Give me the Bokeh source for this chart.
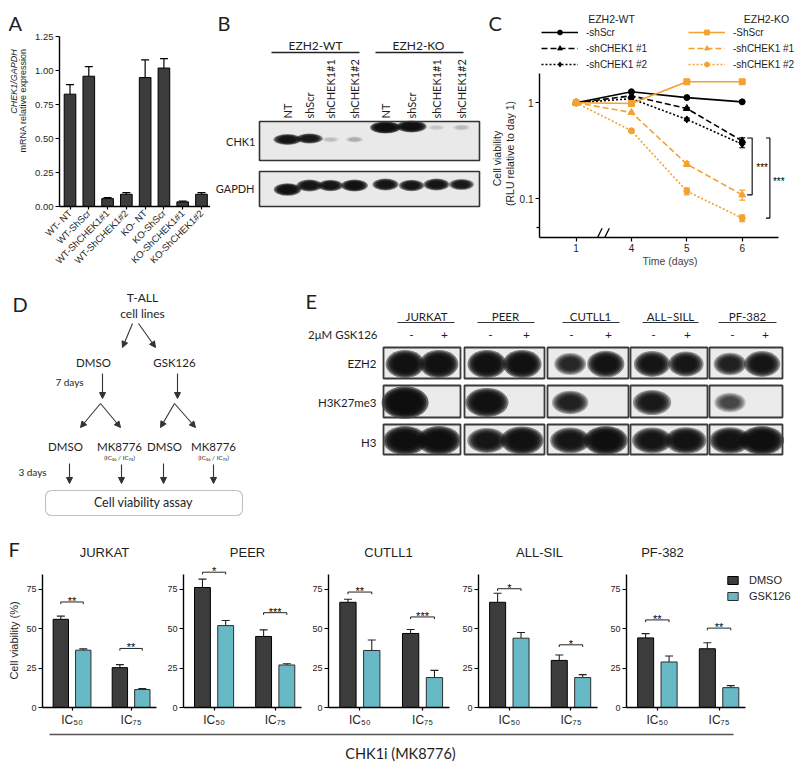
import numpy as np
from bokeh.plotting import figure
from bokeh.models import (Range1d, FixedTicker, Label, Legend, LegendItem, Whisker,
                          TeeHead, ColumnDataSource, Arrow, NormalHead, BoxAnnotation,
                          NumeralTickFormatter)
from bokeh.layouts import row, column
from bokeh.core.properties import value
from bokeh.embed import file_html
from bokeh.resources import INLINE

SANS = "Liberation Sans"
HUM = "Lato"
INK = "#1e1e1e"
DARK = "#3c3c3c"
TEAL = "#67b9c5"
ORANGE = "#f4a12e"

# ---------------- DATA ----------------
# A: CHEK1 mRNA
a_categories = ["WT- NT", "WT-ShScr", "WT-ShCHEK1#1", "WT-ShCHEK1#2",
                "KO- NT", "KO-ShScr", "KO-ShCHEK1#1", "KO-ShCHEK1#2"]
a_values = [0.826, 0.958, 0.058, 0.090, 0.948, 1.018, 0.034, 0.090]
a_errors = [0.070, 0.070, 0.008, 0.012, 0.130, 0.070, 0.006, 0.012]
a_yticks = [0.0, 0.25, 0.50, 0.75, 1.00, 1.25]

# B: western blot CHK1 / GAPDH
b_groups = ["EZH2-WT", "EZH2-KO"]
b_lanes = ["NT", "shScr", "shCHEK1#1", "shCHEK1#2", "NT", "shScr", "shCHEK1#1", "shCHEK1#2"]
b_rows = ["CHK1", "GAPDH"]
b_chk1 = [0.85, 0.75, 0.06, 0.10, 1.05, 1.00, 0.05, 0.08]
b_gapdh = [0.95, 0.85, 0.80, 0.90, 0.85, 0.80, 0.85, 0.75]

# C: cell viability over time (log)
c_days = ["1", "4", "5", "6"]
c_groups = ["EZH2-WT", "EZH2-KO"]
c_labels = ["-shScr", "-shCHEK1 #1", "-shCHEK1 #2", "-ShScr", "-shCHEK1 #1", "-shCHEK1 #2"]
c_wt_shscr = [1.0, 1.30, 1.13, 1.02]
c_wt_sh1 = [1.0, 1.18, 0.87, 0.40]
c_wt_sh2 = [1.0, 1.10, 0.67, 0.37]
c_ko_shscr = [1.0, 0.98, 1.65, 1.65]
c_ko_sh1 = [1.0, 0.79, 0.23, 0.11]
c_ko_sh2 = [1.0, 0.51, 0.12, 0.063]
c_wt_shscr_err = [0, 0, 0, 0]
c_wt_sh1_err = [0, 0, 0.02, 0.03]
c_wt_sh2_err = [0, 0, 0.02, 0.03]
c_ko_shscr_err = [0, 0, 0, 0]
c_ko_sh1_err = [0, 0, 0.012, 0.013]
c_ko_sh2_err = [0, 0, 0.010, 0.005]
c_yticks = [0.1, 1]
c_yminor = [0.05]
c_sig = ["***", "***"]

# D: scheme texts
d_labels = ["T-ALL", "cell lines", "DMSO", "GSK126", "7 days",
            "DMSO", "MK8776", "DMSO", "MK8776", "(IC₅₀ / IC₇₅)", "(IC₅₀ / IC₇₅)",
            "3 days", "Cell viability assay"]

# E: western blot EZH2 / H3K27me3 / H3
e_lines = ["JURKAT", "PEER", "CUTLL1", "ALL–SILL", "PF-382"]
e_treat_label = "2μM GSK126"
e_treat = ["-", "+"]
e_rows = ["EZH2", "H3K27me3", "H3"]
e_ezh2 = [1.0, 1.0, 1.0, 1.0, 0.60, 0.90, 0.85, 0.80, 0.65, 0.85]
e_h3k27me3 = [1.2, 0.0, 1.0, 0.0, 0.65, 0.0, 0.75, 0.0, 0.40, 0.0]
e_h3 = [1.05, 1.05, 0.80, 1.0, 0.85, 1.05, 0.85, 0.90, 0.90, 1.05]

# F: viability with CHK1i
f_lines = ["JURKAT", "PEER", "CUTLL1", "ALL-SIL", "PF-382"]
f_doses = ["IC₅₀", "IC₇₅"]
f_treat = ["DMSO", "GSK126"]
f_dmso = [[56.0, 25.3], [76.2, 45.1], [66.8, 47.0], [66.8, 29.9], [44.2, 37.3]]
f_dmso_err = [[2.0, 1.9], [5.3, 4.2], [1.9, 2.5], [5.7, 3.4], [2.7, 3.8]]
f_gsk = [[36.4, 11.4], [52.0, 27.0], [36.2, 19.0], [44.0, 19.0], [28.9, 12.6]]
f_gsk_err = [[0.8, 0.6], [3.2, 0.8], [6.7, 4.6], [3.6, 1.9], [3.8, 1.3]]
f_sig = [["**", "**"], ["*", "***"], ["**", "***"], ["*", "*"], ["**", "**"]]
f_sig_y = [[67.0, 37.5], [85.9, 60.2], [73.3, 57.5], [75.4, 39.8], [55.6, 50.4]]
f_yticks = [0, 25, 50, 75]
f_xlabel = "CHK1i (MK8776)"


# ---------------- HELPERS ----------------
def canvas(w, h):
    p = figure(width=w, height=h, x_range=Range1d(0, w), y_range=Range1d(0, h),
               x_axis_location=None, y_axis_location=None, min_border=0,
               output_backend="svg", toolbar_location=None)
    p.grid.visible = False
    p.outline_line_color = None
    p.frame_align = False
    return p


def ctext(p, h, xs, ys, texts, size, align="center", baseline="middle", angle=0.0,
          font=HUM, color=INK, style="normal"):
    p.text(x=list(xs), y=[h - v for v in ys], text=list(texts), text_font=value(font),
           text_font_size=size, text_align=align, text_baseline=baseline, angle=angle,
           text_color=color, text_font_style=style)


def flab(p, geom, x, y, text, size, font=SANS, align="center", baseline="middle",
         angle=0.0, style="normal", color=INK):
    # x, y: pixels of the figure canvas (y downwards) -> frame screen units
    left, top, fh = geom
    p.add_layout(Label(x=x - left, y=top + fh - y, x_units="screen", y_units="screen",
                       text=text, text_font=font, text_font_size=size, text_align=align,
                       text_baseline=baseline, angle=angle, text_font_style=style,
                       text_color=color))


def bands(p, h, xs, ys, s, bw, bh):
    for k in np.linspace(1.08, 0.6, 6):
        p.ellipse(x=list(xs), y=[h - v for v in ys],
                  width=[bw * k * (0.55 + 0.45 * v) for v in s],
                  height=[bh * k * (0.45 + 0.55 * v) for v in s],
                  fill_color="#0d0d0d", fill_alpha=[min(1.0, 0.5 * v) for v in s],
                  line_color=None)


def data_fig(w, h, l, r, t, b, **kw):
    p = figure(width=w, height=h, min_border_left=l, min_border_right=r, min_border_top=t,
               min_border_bottom=b, output_backend="svg", toolbar_location=None, **kw)
    p.frame_align = False
    return p


def style_axes(p, size="10px"):
    p.grid.visible = False
    p.outline_line_color = None
    for ax in p.axis:
        ax.axis_line_width = 1.4
        ax.axis_line_color = "black"
        ax.major_tick_line_width = 1.2
        ax.major_tick_out = 4
        ax.major_tick_in = 0
        ax.minor_tick_in = 0
        ax.minor_tick_out = 0
        ax.major_label_text_font = SANS
        ax.major_label_text_font_size = size
        ax.major_label_text_color = INK
        ax.major_label_standoff = 2


# ---------------- PANEL A ----------------
LA = canvas(24, 264)
ctext(LA, 264, [0], [14], ["A"], "20px", align="left", baseline="alphabetic")
ctext(LA, 264, [5.5], [73], ["CHEK1/GAPDH"], "9px", angle=np.pi / 2, font=SANS,
      style="italic")
ctext(LA, 264, [14.5], [92], ["mRNA relative expression"], "9px", angle=np.pi / 2, font=SANS)

a_x = list(range(len(a_categories)))
pa = data_fig(178, 264, 26, 0, 28, 65, x_range=Range1d(-0.56, 7.48), y_range=Range1d(0, 1.25))
pa.vbar(x=a_x, top=a_values, width=0.62, fill_color=DARK, line_color="black", line_width=1)
pa.add_layout(Whisker(source=ColumnDataSource(dict(x=a_x, lo=a_values,
                                                   hi=[v + e for v, e in zip(a_values, a_errors)])),
                      base="x", lower="lo", upper="hi", dimension="height", lower_head=None,
                      upper_head=TeeHead(size=8, line_width=1.2, line_color="black"),
                      line_color="black", line_width=1.2))
style_axes(pa, "9.5px")
pa.yaxis.ticker = FixedTicker(ticks=a_yticks)
pa.yaxis.formatter = NumeralTickFormatter(format="0.00")
pa.xaxis.ticker = FixedTicker(ticks=a_x)
pa.xaxis.major_label_overrides = {x: c for x, c in zip(a_x, a_categories)}
pa.xaxis.major_label_orientation = np.pi / 4
pa.xaxis.major_tick_out = 3

# ---------------- PANEL B ----------------
B_W, B_H, BX = 276, 264, 4
pb = canvas(B_W, B_H)
ctext(pb, B_H, [3 + BX], [14], ["B"], "20px", align="left", baseline="alphabetic")
ctext(pb, B_H, [101 + BX, 204 + BX], [37, 37], b_groups, "12px")
pb.segment(x0=[57 + BX, 161 + BX], y0=[B_H - 44] * 2, x1=[145 + BX, 249 + BX],
           y1=[B_H - 44] * 2, line_color="#222", line_width=1.4)
b_lane_x = [v + BX for v in (73, 95, 116, 140, 171, 197, 222, 247)]
ctext(pb, B_H, b_lane_x, [110] * 8, b_lanes, "11px", align="left", angle=np.pi / 2)
b_box = [(113, 152), (163, 198)]
for (t, b) in b_box:
    pb.quad(left=[45 + BX], right=[265 + BX], top=[B_H - t], bottom=[B_H - b],
            fill_color="#e9e9e9", line_color=None)
bands(pb, B_H, b_lane_x, [131, 130, 131, 131, 119, 118, 119, 119], b_chk1, 28, 11)
bands(pb, B_H, b_lane_x, [181, 177, 177, 177, 176, 177, 176, 176], b_gapdh, 26, 12)
for (t, b) in b_box:
    pb.quad(left=[45 + BX], right=[265 + BX], top=[B_H - t], bottom=[B_H - b],
            fill_color=None, line_color="#333", line_width=1.6)
ctext(pb, B_H, [41 + BX, 40 + BX], [133, 180], b_rows, "11px", align="right")

# ---------------- PANEL C ----------------
LC = canvas(30, 264)
ctext(LC, 264, [2], [14], ["C"], "20px", align="left", baseline="alphabetic")
ctext(LC, 264, [10], [150], ["Cell viability"], "10.5px", angle=np.pi / 2, font=SANS)
ctext(LC, 264, [23.5], [145], ["(RLU relative to day 1)"], "10.5px", angle=np.pi / 2, font=SANS)

C_W, C_H, C_L, C_R, C_T, C_B = 284, 264, 20, 0, 2, 35
c_geom = (C_L, C_T, C_H - C_T - C_B)
c_x = [i + 1 for i in range(len(c_days))]
pc = data_fig(C_W, C_H, C_L, C_R, C_T, C_B, x_range=Range1d(0.339, 5.053),
              y_range=Range1d(0.0396, 9.1), y_axis_type="log")
c_series = [
    (c_wt_shscr, c_wt_shscr_err, "black", "solid", "circle", 6),
    (c_wt_sh1, c_wt_sh1_err, "black", "6 3", "triangle", 7),
    (c_wt_sh2, c_wt_sh2_err, "black", "2 2", "diamond", 7),
    (c_ko_shscr, c_ko_shscr_err, ORANGE, "solid", "square", 6),
    (c_ko_sh1, c_ko_sh1_err, ORANGE, "6 3", "triangle", 7),
    (c_ko_sh2, c_ko_sh2_err, ORANGE, "2 2", "circle", 6),
]
c_items = []
for (vals, errs, col, dash, mk, sz), lab in zip(c_series, c_labels):
    lr = pc.line(c_x, vals, line_color=col, line_width=1.6, line_dash=dash)
    sr = pc.scatter(c_x, vals, marker=mk, size=sz, fill_color=col, line_color=col)
    ex = [x for x, e in zip(c_x, errs) if e > 0]
    if ex:
        lo = [v - e for v, e in zip(vals, errs) if e > 0]
        hi = [v + e for v, e in zip(vals, errs) if e > 0]
        pc.add_layout(Whisker(source=ColumnDataSource(dict(x=ex, lo=lo, hi=hi)), base="x",
                              lower="lo", upper="hi", dimension="height",
                              lower_head=TeeHead(size=6, line_color=col, line_width=1.2),
                              upper_head=TeeHead(size=6, line_color=col, line_width=1.2),
                              line_color=col, line_width=1.2))
    c_items.append(LegendItem(label=lab, renderers=[lr, sr]))
for items, loc in ((c_items[:3], (2, 167)), (c_items[3:], (149, 167))):
    pc.add_layout(Legend(items=items, location=loc, orientation="vertical", glyph_width=37,
                         glyph_height=12, label_height=12, label_standoff=8, spacing=4,
                         padding=0, margin=0, border_line_color=None,
                         background_fill_alpha=0, label_text_font=SANS,
                         label_text_font_size="10px", label_text_color=INK))
style_axes(pc, "10px")
pc.xaxis.ticker = FixedTicker(ticks=c_x)
pc.xaxis.major_label_overrides = {x: d for x, d in zip(c_x, c_days)}
pc.xaxis.bounds = (0.339, 4.66)
pc.yaxis.bounds = (0.0396, 2.03)
pc.yaxis.ticker = FixedTicker(ticks=c_yticks, minor_ticks=c_yminor)
pc.yaxis.major_label_overrides = {0.1: "0.1", 1: "1"}
pc.yaxis.minor_tick_out = 3
pc.yaxis.minor_tick_line_width = 1.2
pc.xaxis.axis_label = "Time (days)"
pc.xaxis.axis_label_text_font = SANS
pc.xaxis.axis_label_text_font_style = "normal"
pc.xaxis.axis_label_text_font_size = "10.5px"
pc.xaxis.axis_label_standoff = 0
# significance brackets at day 6
top_wt = max(c_wt_sh1[-1] + c_wt_sh1_err[-1], c_wt_sh2[-1] + c_wt_sh2_err[-1])
for xv, xt, bot, (sx, sy), s in ((4.18, 4.09, c_ko_sh1[-1], (4.36, 0.214), c_sig[0]),
                                  (4.50, 4.43, c_ko_sh2[-1], (4.66, 0.15), c_sig[1])):
    pc.multi_line(xs=[[xt, xv, xv, xt]], ys=[[top_wt, top_wt, bot, bot]], line_color="black",
                  line_width=1.1)
    pc.add_layout(Label(x=sx, y=sy, text=s, text_font=SANS, text_font_size="10px",
                        text_align="center", text_baseline="middle", text_color="black"))
# axis break
for dx in (0.0, 0.13):
    pc.add_layout(Arrow(end=None, x_start=1.30 + dx, y_start=0.0314, x_end=1.47 + dx,
                        y_end=0.0494, line_color="black", line_width=1.3))
flab(pc, c_geom, C_L + 72, 10, c_groups[0], "10.5px")
flab(pc, c_geom, C_L + 227, 10, c_groups[1], "10.5px")

# ---------------- PANEL D ----------------
D_W, D_H = 262, 258
pdd = canvas(D_W, D_H)
ctext(pdd, D_H, [4], [31], ["D"], "20px", align="left", baseline="alphabetic")
d_pos = [(134, 25), (134, 41), (85, 90), (166, 90), (61, 109),
         (57, 174), (111, 174), (156, 174), (205, 174), (111, 185), (205, 185),
         (24, 199), (135, 230)]
d_size = ["12px", "12px", "11.5px", "11.5px", "10px",
          "11.5px", "11.5px", "11.5px", "11.5px", "6.5px", "6.5px", "10px", "12.5px"]
for (x, y), t, s in zip(d_pos, d_labels, d_size):
    ctext(pdd, D_H, [x], [y], [t], s)
d_arrows = [(124, 51, 114, 75), (130, 51, 147, 75), (94, 101, 94, 126), (169, 101, 169, 126),
            (92, 131, 72, 155), (92, 131, 112, 155), (166, 131, 152, 155), (166, 131, 187, 155),
            (61, 191, 61, 211), (113, 192, 113, 211), (155, 191, 155, 211), (205, 192, 205, 211)]
pdd.add_layout(Arrow(source=ColumnDataSource(dict(
    x0=[a[0] for a in d_arrows], y0=[D_H - a[1] for a in d_arrows],
    x1=[a[2] for a in d_arrows], y1=[D_H - a[3] for a in d_arrows])),
    x_start="x0", y_start="y0", x_end="x1", y_end="y1", line_color="#333", line_width=1.1,
    end=NormalHead(size=6, fill_color="#333", line_color="#333")))
pdd.add_layout(BoxAnnotation(left=37, right=234, bottom=D_H - 243, top=D_H - 218,
                             fill_color=None, line_color="#333", line_width=1.1,
                             border_radius=6))

# ---------------- PANEL E ----------------
E_W, E_H = 522, 258
pe = canvas(E_W, E_H)
ctext(pe, E_H, [35], [28], ["E"], "20px", align="left", baseline="alphabetic")
e_col_x = [(113, 190), (194, 274), (277, 358), (360, 437), (439, 512)]
e_row_y = [(75, 106), (113, 145), (152, 182)]
e_name_x = [156, 235, 320, 400, 477]
e_line_x = [(127, 184), (207, 264), (292, 349), (372, 428), (448, 506)]
e_sign_x = [141, 174, 220, 256, 301, 338, 383, 417, 462, 495]
ctext(pe, E_H, e_name_x, [44] * 5, e_lines, "11.5px")
pe.segment(x0=[a for a, b in e_line_x], y0=[E_H - 50] * 5, x1=[b for a, b in e_line_x],
           y1=[E_H - 50] * 5, line_color="#333", line_width=1.2)
ctext(pe, E_H, [107], [62], [e_treat_label], "11.5px", align="right")
ctext(pe, E_H, e_sign_x, [62] * 10, e_treat * 5, "12px")
ctext(pe, E_H, [106] * 3, [91, 130, 170], e_rows, "11.5px", align="right")
e_lane_x = []
for a, b in e_col_x:
    e_lane_x += [a + 0.28 * (b - a), a + 0.72 * (b - a)]
e_band_size = [(36, 26), (40, 27), (40, 26)]
for r, ((t, b), sig) in enumerate(zip(e_row_y, [e_ezh2, e_h3k27me3, e_h3])):
    pe.quad(left=[a for a, _ in e_col_x], right=[c for _, c in e_col_x], top=[E_H - t] * 5,
            bottom=[E_H - b] * 5, fill_color="#ebebeb", line_color=None)
    bands(pe, E_H, e_lane_x, [(t + b) / 2 + 1] * 10, sig, *e_band_size[r])
    pe.quad(left=[a for a, _ in e_col_x], right=[c for _, c in e_col_x], top=[E_H - t] * 5,
            bottom=[E_H - b] * 5, fill_color=None, line_color="#3a3a3a", line_width=1.8)

# ---------------- PANEL F ----------------
F_H, F_T, F_B = 199, 2, 21
F_FH = F_H - F_T - F_B
LF = canvas(15, F_H)
ctext(LF, F_H, [0], [18], ["F"], "20px", align="left", baseline="alphabetic")
ctext(LF, F_H, [5], [110], ["Cell viability (%)"], "11px", angle=np.pi / 2, font=SANS)

f_width = [137, 145, 147, 148, 192]
f_left = [17, 23, 23, 26, 26]
f_frame_w = [116, 118, 121, 119, 166]
f_xend = [1.93, 1.93, 1.93, 1.93, 2.69]
f_title_dx = [62, 64, 60, 61, 36]
f_ytop = F_FH / 1.584
gx = [0.5, 1.5]
fps = []
for i, name in enumerate(f_lines):
    w = f_width[i]
    geom = (f_left[i], F_T, F_FH)
    p = data_fig(w, F_H, f_left[i], w - f_left[i] - f_frame_w[i], F_T, F_B,
                 x_range=Range1d(0, f_xend[i]), y_range=Range1d(0, f_ytop))
    xd = [g - 0.19 for g in gx]
    xg = [g + 0.19 for g in gx]
    rd = p.vbar(x=xd, top=f_dmso[i], width=0.26, fill_color=DARK, line_color="black",
                line_width=1)
    rg = p.vbar(x=xg, top=f_gsk[i], width=0.26, fill_color=TEAL, line_color="#2e2e2e",
                line_width=1)
    for xs, tops, errs in ((xd, f_dmso[i], f_dmso_err[i]), (xg, f_gsk[i], f_gsk_err[i])):
        p.add_layout(Whisker(source=ColumnDataSource(dict(
            x=xs, lo=tops, hi=[v + e for v, e in zip(tops, errs)])), base="x", lower="lo",
            upper="hi", dimension="height", lower_head=None,
            upper_head=TeeHead(size=8, line_width=1.1, line_color="#222"),
            line_color="#222", line_width=1.1))
    p.multi_line(xs=[[a, a, b, b] for a, b in zip(xd, xg)],
                 ys=[[y - 1.4, y, y, y - 1.4] for y in f_sig_y[i]], line_color="#222",
                 line_width=1)
    p.text(x=gx, y=[y + 0.6 for y in f_sig_y[i]], text=f_sig[i], text_font=value(SANS),
           text_font_size="11px", text_align="center", text_baseline="alphabetic",
           text_color="black")
    style_axes(p, "9px")
    p.yaxis.ticker = FixedTicker(ticks=f_yticks)
    p.yaxis.bounds = (0, 84.5)
    p.xaxis.ticker = FixedTicker(ticks=gx)
    p.xaxis.bounds = (0, 1.93)
    p.xaxis.major_label_overrides = {g: d for g, d in zip(gx, f_doses)}
    p.xaxis.major_label_text_font_size = "12px"
    p.xaxis.major_tick_out = 3
    p.xaxis.major_label_standoff = 2
    flab(p, geom, f_left[i] + f_title_dx[i], 23, name, "13px")
    if i == len(f_lines) - 1:
        p.add_layout(Legend(items=[LegendItem(label=f_treat[0], renderers=[rd]),
                                   LegendItem(label=f_treat[1], renderers=[rg])],
                            location=(100, 105), glyph_width=13, glyph_height=10,
                            label_height=12, label_standoff=10, spacing=4, padding=0,
                            margin=0, border_line_color=None, background_fill_alpha=0,
                            label_text_font=SANS, label_text_font_size="11px",
                            label_text_color=INK))
    fps.append(p)

BOT_W, BOT_H = 784, 36
pbot = canvas(BOT_W, BOT_H)
pbot.segment(x0=[41], y0=[BOT_H - 5], x1=[725], y1=[BOT_H - 5], line_color="#555",
             line_width=1.5)
ctext(pbot, BOT_H, [392], [24], [f_xlabel], "14.5px")

layout = column(row(LA, pa, pb, LC, pc), row(pdd, pe), row(LF, *fps), pbot,
                margin=(8, 0, 0, 8))
open("out.html", "w").write(file_html(layout, INLINE))
